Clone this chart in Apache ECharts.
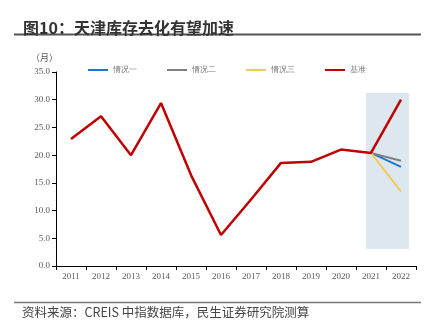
<!DOCTYPE html>
<html><head><meta charset="utf-8">
<script src="https://cdn.jsdelivr.net/npm/echarts@6/dist/echarts.min.js"></script>
<style>html,body{margin:0;padding:0;background:#fff}#c{width:440px;height:327px}</style>
</head><body><div id="c"></div>
<script>
const years = ['2011','2012','2013','2014','2015','2016','2017','2018','2019','2020','2021','2022'];
const base = [22.9, 27.0, 20.0, 29.4, 16.4, 5.6, 12.0, 18.6, 18.8, 21.0, 20.4, 30.0];
const case1 = [null, null, null, null, null, null, null, null, null, null, 20.4, 17.9];
const case2 = [null, null, null, null, null, null, null, null, null, null, 20.4, 19.0];
const case3 = [null, null, null, null, null, null, null, null, null, null, 20.4, 13.4];
const yTicks = [0, 5, 10, 15, 20, 25, 30, 35];
const shadeX = [10.33, 11.77];
const shadeY = [3.1, 31.2];

const chart = echarts.init(document.getElementById('c'));
const serif = 'Liberation Serif';
const cjk = 'Noto Sans CJK SC';
chart.setOption({
  animation: false,
  title: {
    text: '图10：天津库存去化有望加速',
    left: 18, top: 15,
    textStyle: { fontFamily: cjk, fontSize: 16, fontWeight: 'bold', color: '#333' }
  },
  graphic: [
    { type: 'line', shape: { x1: 14, y1: 34.5, x2: 421, y2: 34.5 }, style: { stroke: '#555', lineWidth: 2 } },
    { type: 'line', shape: { x1: 14, y1: 302.5, x2: 421, y2: 302.5 }, style: { stroke: '#777', lineWidth: 1.5 } },
    { type: 'text', left: 22, top: 306, style: { text: '资料来源：CREIS 中指数据库，民生证券研究院测算', fontFamily: cjk, fontSize: 12.5, fill: '#444' } },
    { type: 'text', left: 31, top: 53, style: { text: '（月）', fontFamily: cjk, fontSize: 9, fill: '#555' } }
  ],
  legend: {
    top: 61, left: 83,
    itemGap: 30,
    itemWidth: 20, itemHeight: 2,
    icon: 'rect',
    textStyle: { fontFamily: serif, fontSize: 8, color: '#777' },
    data: ['情况一', '情况二', '情况三', '基准']
  },
  grid: { left: 56, right: 24, top: 72, bottom: 61, containLabel: false },
  xAxis: [{
    type: 'category', data: years, boundaryGap: true,
    axisLine: { lineStyle: { color: '#000', width: 1 } },
    axisTick: { show: true, inside: false, length: 4, lineStyle: { color: '#000' } },
    axisLabel: { fontFamily: serif, fontSize: 9, color: '#595959', margin: 6 }
  }, {
    type: 'value', min: 0, max: 12, show: false
  }],
  yAxis: {
    type: 'value', min: 0, max: 35, interval: 5,
    axisLine: { show: true, lineStyle: { color: '#000', width: 1 } },
    axisTick: { show: true, length: 4, lineStyle: { color: '#000' } },
    splitLine: { show: false },
    axisLabel: { fontFamily: serif, fontSize: 9, color: '#595959', margin: 6,
      formatter: v => v.toFixed(1) }
  },
  series: [
    { name: 'shade', type: 'line', xAxisIndex: 1, data: [], silent: true,
      markArea: { silent: true, itemStyle: { color: '#dde7f0' },
        data: [[{ xAxis: shadeX[0], yAxis: shadeY[0] }, { xAxis: shadeX[1], yAxis: shadeY[1] }]] } },
    { name: '情况一', type: 'line', data: case1, showSymbol: false, itemStyle: { color: '#1a78d0' }, lineStyle: { width: 2, color: '#1a78d0' } },
    { name: '情况二', type: 'line', data: case2, showSymbol: false, itemStyle: { color: '#808080' }, lineStyle: { width: 2, color: '#808080' } },
    { name: '情况三', type: 'line', data: case3, showSymbol: false, itemStyle: { color: '#f2ca5c' }, lineStyle: { width: 2, color: '#f2ca5c' } },
    { name: '基准', type: 'line', data: base, showSymbol: false, itemStyle: { color: '#c00000' }, lineStyle: { width: 2.5, color: '#c00000' } }
  ]
});
</script></body></html>
